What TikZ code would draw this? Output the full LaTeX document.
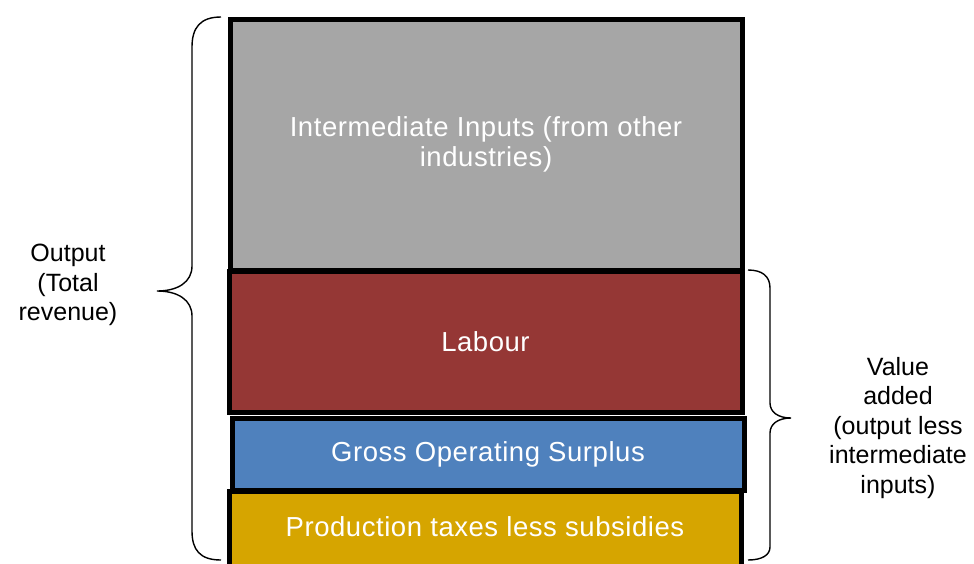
\documentclass[tikz,border=0pt]{standalone}
\usepackage{fontspec}
\setmainfont{Liberation Sans}
\usepackage{xcolor}

\definecolor{inputgrey}{RGB}{166,166,166}
\definecolor{labourred}{RGB}{149,55,53}
\definecolor{surplusblue}{RGB}{79,129,189}
\definecolor{taxyellow}{RGB}{214,165,0}

\begin{document}
\begin{tikzpicture}[x=1pt, y=-1pt,
    bar/.style={draw=black, line width=5pt, rectangle, text=white, align=center,
                font=\fontsize{27.5}{30}\selectfont\addfontfeature{LetterSpace=2}},
    side/.style={align=center, font=\fontsize{25}{29.5}\selectfont},
    curly/.style={draw=black, line width=1.4pt}]
    \clip (0,0) rectangle (974,563);
    \fill[white] (0,0) rectangle (974,563);

    % stacked blocks, top to bottom
    \node[bar, fill=inputgrey, minimum width=512pt, minimum height=251pt] (inter) at (486,144.5)
        {Intermediate Inputs (from other\\industries)};
    \node[bar, fill=labourred, minimum width=513pt, minimum height=141pt] (labour) at (485.5,341.5) {Labour};
    \node[bar, fill=surplusblue, minimum width=512pt, minimum height=72pt] (gos) at (488,454) {Gross Operating Surplus};
    \node[bar, fill=taxyellow, minimum width=512pt, minimum height=79pt, text depth=7pt] (taxes) at (485,530.5)
        {Production taxes less subsidies};

    % braces
    \draw[curly] (221,17) .. controls (200,17) and (192,28) .. (192,47) -- (192,266)
        .. controls (192,282) and (178,291) .. (157,291)
        .. controls (178,291) and (192,300) .. (192,316) -- (192,531)
        .. controls (192,550) and (200,560) .. (221,560);
    \draw[curly] (748,270) .. controls (762,270) and (770,276) .. (770,288) -- (770,403)
        .. controls (770,412) and (778,418) .. (791,418)
        .. controls (778,418) and (770,424) .. (770,433) -- (770,547)
        .. controls (770,555) and (762,560) .. (748,560);

    % labels beside the braces
    \node[side] (output) at (68,285) {Output\\(Total\\revenue)};
    \node[side] (va) at (898,428) {Value\\added\\(output less\\intermediate\\inputs)};
\end{tikzpicture}
\end{document}
